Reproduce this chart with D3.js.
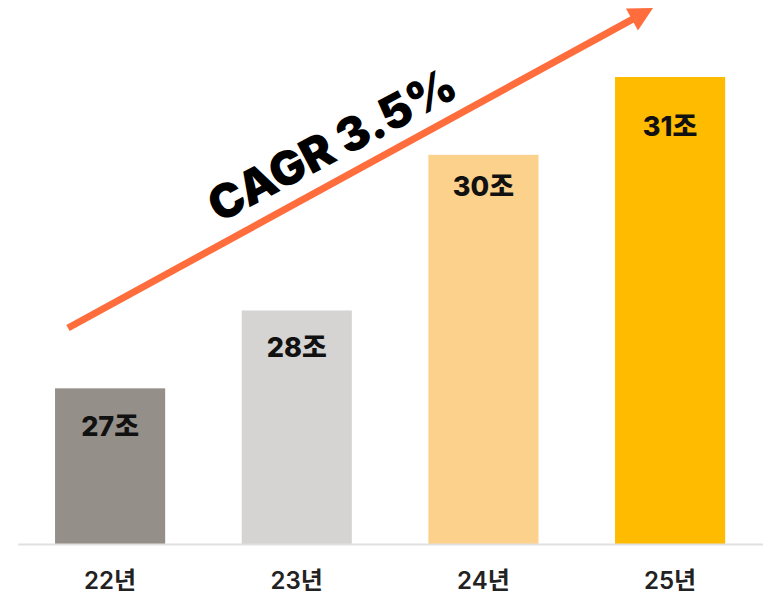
<!DOCTYPE html>
<html>
<head>
<meta charset="utf-8">
<script src="https://cdn.jsdelivr.net/npm/d3@7"></script>
<style>
  html, body { margin: 0; padding: 0; background: #fff; }
  svg { display: block; }
</style>
</head>
<body>
<svg id="chart"></svg>
<script>
// data
var years  = ["22년", "23년", "24년", "25년"];
var values = [27, 28, 30, 31];
var valueLabels = ["27조", "28조", "30조", "31조"];
var barColors = ["#958f89", "#d5d4d2", "#fcd18c", "#ffbb00"];
var cagrText = "CAGR 3.5%";

var W = 763, H = 595;
var baseY = 544;
var labelOffsets = [48, 46, 41, 59]; // label baseline below bar top

var svg = d3.select("#chart").attr("width", W).attr("height", H);

var x = d3.scaleBand()
    .domain(years)
    .range([17.7, 762.5])
    .paddingInner(0.41)
    .paddingOuter(0.2);

// axis starts at 25, not zero
var y = d3.scaleLinear()
    .domain([25, 31])
    .range([baseY, 77]);

var bars = svg.append("g").attr("class", "bars");

bars.selectAll("rect")
    .data(values)
    .enter().append("rect")
        .attr("x", function(d, i){ return x(years[i]); })
        .attr("y", function(d){ return y(d); })
        .attr("width", x.bandwidth())
        .attr("height", function(d){ return baseY - y(d); })
        .attr("fill", function(d, i){ return barColors[i]; });

bars.selectAll("text")
    .data(values)
    .enter().append("text")
        .attr("x", function(d, i){ return x(years[i]) + x.bandwidth() / 2; })
        .attr("y", function(d, i){ return y(d) + labelOffsets[i]; })
        .attr("text-anchor", "middle")
        .attr("font-family", "Inter, 'Noto Sans CJK KR', sans-serif")
        .attr("font-weight", 800)
        .attr("font-size", 27)
        .attr("fill", "#111")
        .text(function(d, i){ return valueLabels[i]; });

// x axis
var xAxis = svg.append("g")
    .attr("transform", "translate(0," + baseY + ")")
    .call(d3.axisBottom(x).tickSize(0).tickSizeOuter(0));

xAxis.select(".domain")
    .attr("stroke", "#e0e0e0")
    .attr("stroke-width", 2);

xAxis.selectAll(".tick text")
    .attr("y", 45)
    .attr("dy", 0)
    .attr("font-family", "Inter, 'Noto Sans CJK KR', sans-serif")
    .attr("font-weight", 600)
    .attr("font-size", 24)
    .attr("fill", "#222");

// CAGR arrow
var arrowStart = [68, 328], arrowTip = [653, 8];
var dx = arrowTip[0] - arrowStart[0], dy = arrowTip[1] - arrowStart[1];
var len = Math.sqrt(dx * dx + dy * dy);
var ux = dx / len, uy = dy / len;
var headLen = 24, headHalf = 12.5;
var bx = arrowTip[0] - ux * headLen, by = arrowTip[1] - uy * headLen;

var arrow = svg.append("g").attr("class", "cagr");
arrow.append("line")
    .attr("x1", arrowStart[0]).attr("y1", arrowStart[1])
    .attr("x2", bx + ux * 2).attr("y2", by + uy * 2)
    .attr("stroke", "#ff6d3d")
    .attr("stroke-width", 7);

arrow.append("path")
    .attr("d", d3.line()([
        arrowTip,
        [bx - uy * headHalf, by + ux * headHalf],
        [bx + uy * headHalf, by - ux * headHalf]
    ]) + "Z")
    .attr("fill", "#ff6d3d");

var angle = Math.atan2(dy, dx) * 180 / Math.PI + 0.8;
arrow.append("text")
    .attr("transform", "translate(332,145) rotate(" + angle + ")")
    .attr("text-anchor", "middle")
    .attr("dy", "0.35em")
    .attr("font-family", "Inter, 'Noto Sans CJK KR', sans-serif")
    .attr("font-weight", 900)
    .attr("font-size", 47)
    .attr("fill", "#000")
    .text(cagrText);
</script>
</body>
</html>
